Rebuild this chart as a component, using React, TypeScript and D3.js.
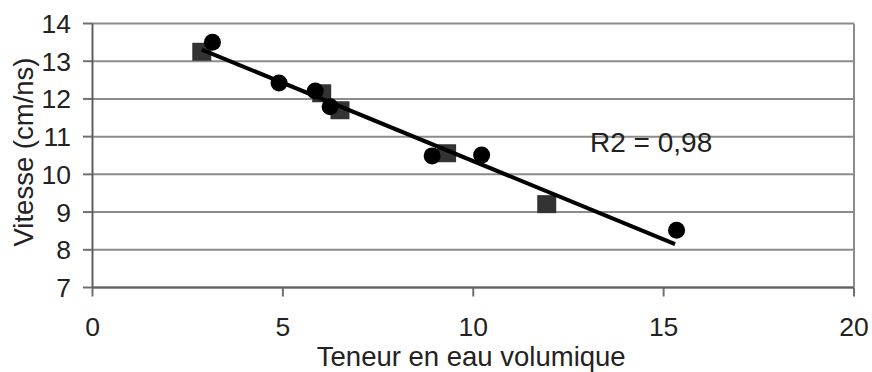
import React from "react";
import * as d3 from "d3";

const circleX = [3.15, 4.9, 5.85, 6.24, 8.92, 10.22, 15.34];
const circleY = [13.5, 12.42, 12.21, 11.79, 10.49, 10.51, 8.52];
const squareX = [2.87, 6.02, 6.5, 9.3, 11.93];
const squareY = [13.25, 12.15, 11.7, 10.56, 9.21];
const trendSlope = -0.415;
const trendIntercept = 14.5;
const trendRange = [2.87, 15.3];
const xTicks = [0, 5, 10, 15, 20];
const yTicks = [7, 8, 9, 10, 11, 12, 13, 14];
const xTitle = "Teneur en eau volumique";
const yTitle = "Vitesse (cm/ns)";
const r2Label = "R2 = 0,98";

export default function App() {
  const W = 872, H = 372;
  const x = d3.scaleLinear().domain([0, 20]).range([92.5, 854]);
  const y = d3.scaleLinear().domain([7, 14]).range([287.5, 23.5]);
  const font = "'Liberation Sans', Arial, sans-serif";
  const line = d3.line<number>().x((v) => x(v)).y((v) => y(trendIntercept + trendSlope * v));
  return (
    <svg width={W} height={H} style={{ position: "absolute", left: 0, top: 0, background: "#fff" }}>
      {yTicks.map((t) => (
        <line key={"g" + t} x1={x(0)} x2={x(20)} y1={y(t)} y2={y(t)} stroke="#8c8c8c" strokeWidth={2} />
      ))}
      {yTicks.map((t) => (
        <line key={"yt" + t} x1={x(0) - 9.5} x2={x(0)} y1={y(t)} y2={y(t)} stroke="#707070" strokeWidth={2} />
      ))}
      {xTicks.map((t) => (
        <line key={"xt" + t} x1={x(t)} x2={x(t)} y1={y(7)} y2={y(7) + 9} stroke="#707070" strokeWidth={2} />
      ))}
      <line x1={x(20)} x2={x(20)} y1={y(14)} y2={y(7)} stroke="#8c8c8c" strokeWidth={2} />
      <line x1={x(0)} x2={x(0)} y1={y(14)} y2={y(7)} stroke="#606060" strokeWidth={2} />
      <line x1={x(0)} x2={x(20)} y1={y(7)} y2={y(7)} stroke="#606060" strokeWidth={2} />
      {yTicks.map((t) => (
        <text key={"yl" + t} x={71} y={y(t) + 9.5} textAnchor="end" fontFamily={font} fontSize={26.5} fill="#222">
          {t}
        </text>
      ))}
      {xTicks.map((t) => (
        <text key={"xl" + t} x={x(t)} y={336} textAnchor="middle" fontFamily={font} fontSize={26.5} fill="#222">
          {t}
        </text>
      ))}
      <text x={(x(0) + x(20)) / 2 - 2} y={366} textAnchor="middle" fontFamily={font} fontSize={27.5} fill="#222">
        {xTitle}
      </text>
      <text
        transform={`translate(33,152) rotate(-90)`}
        textAnchor="middle"
        fontFamily={font}
        fontSize={27.5}
        fill="#222"
      >
        {yTitle}
      </text>
      {squareX.map((v, i) => (
        <rect key={"s" + i} x={x(v) - 9.5} y={y(squareY[i]) - 9} width={19} height={18} fill="#333" />
      ))}
      <path d={line(trendRange) || ""} stroke="#000" strokeWidth={4} fill="none" />
      {circleX.map((v, i) => (
        <circle key={"c" + i} cx={x(v)} cy={y(circleY[i])} r={8.5} fill="#000" />
      ))}
      <text x={590} y={151.5} fontFamily={font} fontSize={28} fill="#222">
        {r2Label}
      </text>
    </svg>
  );
}
